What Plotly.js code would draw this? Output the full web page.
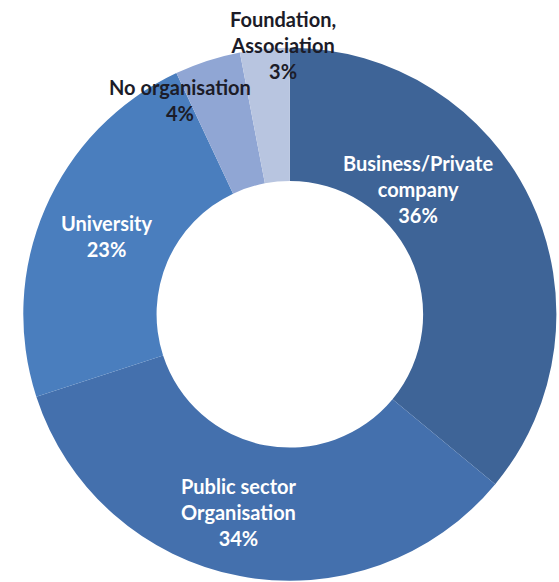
<!DOCTYPE html>
<html>
<head>
<meta charset="utf-8">
<script src="https://cdn.plot.ly/plotly-3.0.1.min.js"></script>
<style>html,body{margin:0;padding:0;background:#fff;}#chart{width:559px;height:582px;}</style>
</head>
<body>
<div id="chart"></div>
<script>
const categories = ["Business/Private<br>company", "Public sector<br>Organisation", "University", "No organisation", "Foundation,<br>Association"];
const shares = [36, 34, 23, 4, 3];
const sliceColors = ["#3e6497", "#4470ad", "#4a7ebe", "#90a6d4", "#b8c5e0"];
const textColors = ["#ffffff", "#ffffff", "#ffffff", "#1c1c28", "#1c1c28"];
// label anchor points (pixels from top-left of the 559x582 figure)
const labelX = [418, 238, 107, 180, 283];
const labelY = [189, 512, 236, 100, 45];

const W = 559, H = 582;

const trace = {
  type: "pie",
  labels: categories,
  values: shares,
  hole: 0.5,
  sort: false,
  direction: "clockwise",
  rotation: 0,
  marker: {colors: sliceColors, line: {color: "#ffffff", width: 0}},
  textinfo: "none",
  hoverinfo: "none",
  showlegend: false,
  domain: {x: [0.041, 0.996], y: [0.002, 0.918]}
};

const annotations = categories.map((c, i) => ({
  xref: "paper", yref: "paper",
  x: labelX[i] / W, y: 1 - labelY[i] / H,
  xanchor: "center", yanchor: "middle",
  text: c + "<br>" + shares[i] + "%",
  showarrow: false,
  align: "center",
  font: {family: "Lato, 'Open Sans', sans-serif", size: 20, color: textColors[i], weight: "bold"}
}));

const layout = {
  width: W,
  height: H,
  margin: {l: 0, r: 0, t: 0, b: 0},
  paper_bgcolor: "#ffffff",
  showlegend: false,
  annotations: annotations
};

Plotly.newPlot("chart", [trace], layout, {displayModeBar: false, staticPlot: true});
</script>
</body>
</html>
